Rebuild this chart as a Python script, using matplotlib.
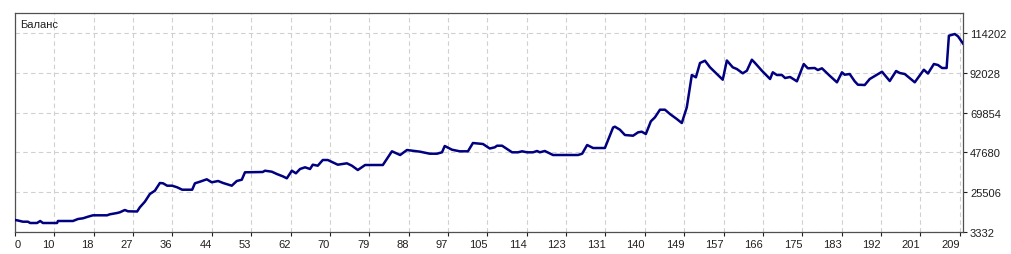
# Balance curve from a strategy tester report (MT4 look).
# Values.

import numpy as np
import matplotlib
matplotlib.use("Agg")
import matplotlib.pyplot as plt

TITLE = "Баланс"

# trade number / account balance
trades = [
    1.4, 2.0, 3.1, 4.2, 4.7, 6.2, 6.9, 7.5, 10.6, 10.8, 14.1, 15.2, 16.3, 17.4,
    18.5, 21.6, 22.2, 23.8, 24.4, 25.5, 26.2, 28.2, 28.8, 29.9, 31.0, 32.1,
    33.2, 33.9, 34.8, 35.9, 37.0, 38.1, 40.3, 40.9, 42.0, 43.5, 44.6, 46.0,
    47.1, 49.0, 50.1, 51.2, 51.9, 55.8, 56.3, 57.8, 58.9, 60.2, 61.1, 62.2,
    63.1, 64.0, 65.1, 66.2, 66.8, 67.9, 69.0, 70.1, 71.2, 72.3, 74.3, 75.4,
    76.7, 78.3, 82.2, 84.2, 86.0, 87.5, 90.4, 92.5, 94.1, 95.2, 95.8, 97.4,
    99.1, 100.9, 102.0, 104.2, 105.7, 106.8, 107.3, 108.4, 110.6, 111.9,
    112.8, 113.9, 115.2, 116.1, 116.7, 117.8, 119.6, 125.1, 126.0, 127.1,
    128.4, 131.0, 132.8, 133.2, 134.3, 135.4, 137.2, 138.3, 139.1, 140.0,
    141.1, 142.0, 143.1, 144.2, 145.3, 146.8, 147.9, 149.0, 150.1, 151.0,
    151.9, 153.0, 154.1, 155.6, 156.9, 157.8, 159.1, 160.0, 161.3, 162.2,
    163.3, 164.0, 165.5, 167.3, 167.9, 168.8, 169.9, 170.6, 171.7, 173.2,
    174.7, 175.6, 177.1, 177.8, 178.7, 180.4, 182.0, 183.1, 183.7, 184.8,
    185.9, 186.6, 188.1, 189.2, 191.9, 193.6, 195.0, 195.8, 196.9, 199.1,
    201.1, 202.0, 203.3, 204.2, 205.1, 206.1, 206.6, 207.9, 208.6, 209.7,
]
balance = [
    10017, 9739, 9070, 9070, 8346, 8346, 9460, 8346, 8346, 9460, 9460, 10574,
    10964, 11856, 12636, 12636, 13193, 13917, 14307, 15588, 14864, 14753,
    17092, 20212, 24502, 26340, 30630, 30463, 29126, 29126, 28234, 26897,
    26897, 30463, 31354, 32691, 31020, 31744, 30630, 29126, 31744, 32468,
    36591, 36758, 37482, 36925, 35644, 34362, 33248, 37482, 36034, 38429,
    39376, 38429, 40825, 40268, 43443, 43443, 42162, 40825, 41605, 40268,
    37872, 40658, 40658, 48290, 46229, 49014, 48067, 46953, 46953, 47733,
    51243, 49181, 48290, 48290, 52914, 52357, 49850, 50518, 51410, 51410,
    47733, 47733, 48290, 47733, 47733, 48457, 47733, 48457, 46229, 46229,
    46953, 51800, 50128, 50128, 61549, 61995, 60323, 57371, 56981, 58875,
    59209, 57928, 65003, 67231, 71465, 71465, 69070, 66284, 64056, 72802,
    90797, 89515, 97482, 98763, 95086, 91354, 88179, 98875, 95086, 94139,
    91744, 93192, 99320, 97482, 93192, 88568, 92301, 90797, 90797, 89125,
    89683, 87287, 96925, 94529, 94696, 93582, 94529, 90407, 86730, 92301,
    90964, 91354, 87287, 85393, 85226, 88568, 92635, 87454, 93025, 91911,
    91354, 86730, 93749, 91632, 96925, 96368, 94696, 94696, 112691, 113638,
    112357, 108345,
]

x_labels = ["10", "18", "27", "36", "44", "53", "62", "70", "79", "88", "97",
            "105", "114", "123", "131", "140", "149", "157", "166", "175",
            "183", "192", "201", "209"]
y_levels = [3332, 25506, 47680, 69854, 92028, 114202]

LINE = "#000080"
GRID = "#d0d0d0"
FRAME = "#505050"
TEXT = "#202020"

plt.rcParams["font.family"] = ["Liberation Sans", "DejaVu Sans"]

fig = plt.figure(figsize=(10.12, 2.55), dpi=100)
ax = fig.add_axes([15 / 1012, 22 / 255, 948 / 1012, 219 / 255])

ax.plot(trades, balance, color=LINE, linewidth=1.8, solid_joinstyle="round", zorder=3)

# x axis: evenly spaced grid, first label "0" sits at the left edge
x0, x1 = 1.36, 209.7
xpos = np.linspace(10, 209, len(x_labels))
ax.set_xlim(x0, x1)
ax.set_xticks([x0] + list(xpos), ["0"] + x_labels)
for i, lab in enumerate(ax.get_xticklabels()):
    lab.set_ha("left" if i == 0 else "right")

ax.set_ylim(3332, 125345)
ax.set_yticks(y_levels, [str(v) for v in y_levels])
ax.yaxis.tick_right()

ax.tick_params(axis="both", labelsize=8, colors=TEXT, length=3,
               width=0.8, direction="out")
ax.tick_params(axis="x", pad=2)
ax.tick_params(axis="y", pad=2)
ax.get_xticklabels()[0].set_x(x0 + 0.4)

ax.grid(True, color=GRID, linestyle=(0, (4, 3)), linewidth=0.8, zorder=0)
for s in ax.spines.values():
    s.set_color(FRAME)
    s.set_linewidth(0.9)

fig.text(20 / 1012, 1 - 24.5 / 255, TITLE, fontsize=8, color=TEXT,
         va="center", ha="left")

fig.savefig("out.png", dpi=100, facecolor="white")
plt.close(fig)
